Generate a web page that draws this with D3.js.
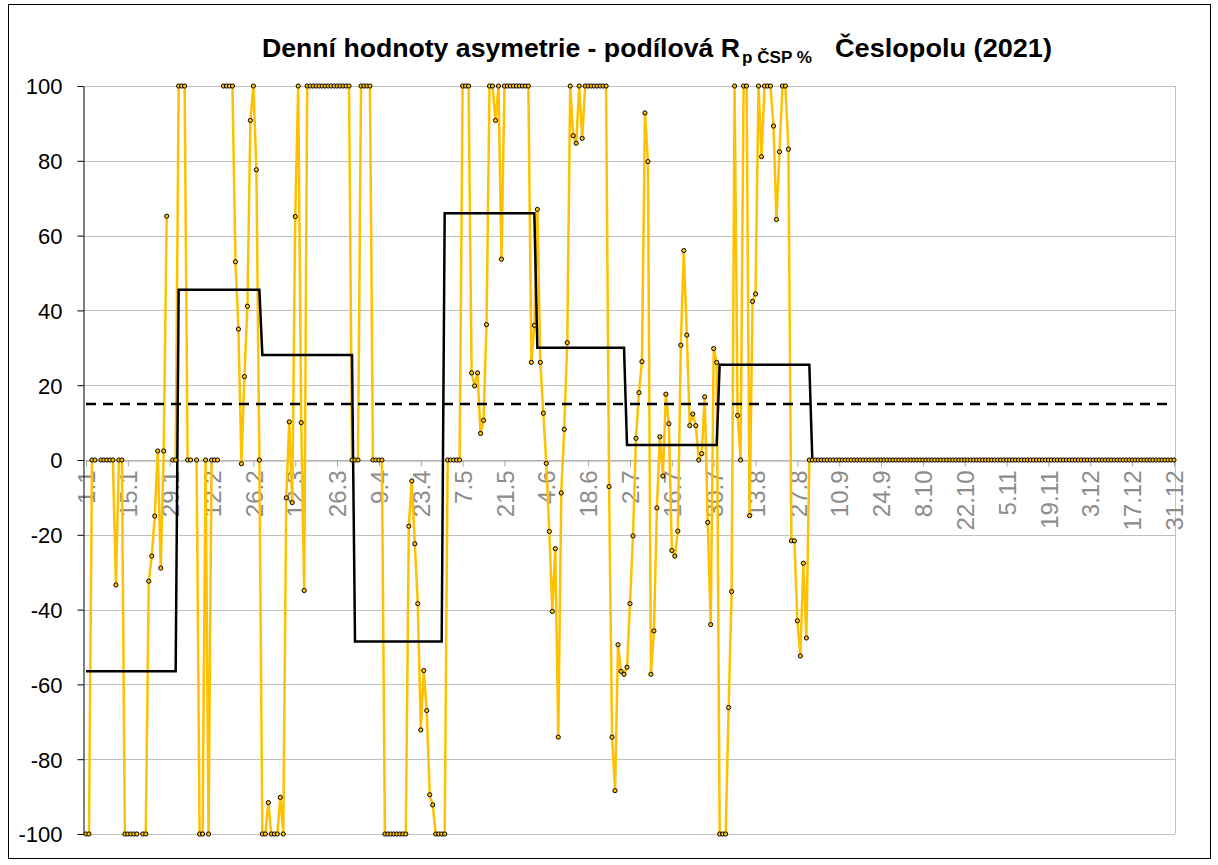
<!DOCTYPE html>
<html>
<head>
<meta charset="utf-8">
<script src="https://cdn.jsdelivr.net/npm/d3@7"></script>
<style>
  body { margin: 0; background: #fff; }
  text { font-family: "Liberation Sans", Arial, sans-serif; }
</style>
</head>
<body>
<script>
// daily values per month (null = no value that day)
var jan = [-100, -100, 0, 0, null, 0, 0, 0, 0, 0, -33.4, 0, 0, -100, -100, -100, -100, -100, null, -100,
           -100, -32.4, -25.7, -15, 2.4, -28.9, 2.4, 65.2, null, 0, 0];
var feb = [100, 100, 100, 0, 0, null, 0, -100, -100, 0, -100, 0, 0, 0, null, 100, 100, 100, 100, 53,
           35, -1, 22.3, 41.1, 90.8, 100, 77.6, 0];
var mar = [-100, -100, -91.6, -100, -100, -100, -90.2, -100, -10.1, 10.2, -11.4, 65.1, 100, 10, -34.9,
           100, 100, 100, 100, 100, 100, 100, 100, 100, 100, 100, 100, 100, 100, 100, 0];
var apr = [0, 0, 100, 100, 100, 100, 0, 0, 0, 0, -100, -100, -100, -100, -100, -100, -100, -100,
           -17.7, -5.6, -22.4, -38.4, -72.2, -56.3, -67, -89.5, -92.2, -100, -100, -100];
var may = [-100, 0, 0, 0, 0, 0, 100, 100, 100, 23.3, 19.8, 23.3, 7.1, 10.6, 36.2, 100, 100, 90.8, 100,
           53.7, 100, 100, 100, 100, 100, 100, 100, 100, 100, 26.1, 36];
var jun = [67, 26.1, 12.5, -0.9, -19.1, -40.5, -23.7, -74.1, -8.8, 8.2, 31.4, 100, 86.7, 84.7, 100, 86,
           100, 100, 100, 100, 100, 100, 100, 100, -7.1, -74.1, -88.4, -49.4, -56.5, -57.3];
var jul = [-55.4, -38.4, -20.3, 5.8, 18, 26.3, 92.8, 79.8, -57.3, -45.7, -12.8, 6.2, -4.3, 17.6, 9.7,
           -24.2, -25.7, -19, 30.7, 56, 33.4, 9.2, 12.3, 9.2, 0, 1.7, 16.9, -16.7, -44, 29.8, 26.1];
var aug = [-100, -100, -100, -66.2, -35.2, 100, 11.9, 0, 100, 100, -14.9, 42.4, 44.4, 100, 81.1, 100,
           100, 100, 89.3, 64.3, 82.4, 100, 100, 83.1, -21.6, -21.6, -43, -52.4, -27.6, -47.6, 0];
var sep = [0,0,0,0,0,0,0,0,0,0, 0,0,0,0,0,0,0,0,0,0, 0,0,0,0,0,0,0,0,0,0];
var oct = [0,0,0,0,0,0,0,0,0,0, 0,0,0,0,0,0,0,0,0,0, 0,0,0,0,0,0,0,0,0,0, 0];
var nov = [0,0,0,0,0,0,0,0,0,0, 0,0,0,0,0,0,0,0,0,0, 0,0,0,0,0,0,0,0,0,0];
var dec = [0,0,0,0,0,0,0,0,0,0, 0,0,0,0,0,0,0,0,0,0, 0,0,0,0,0,0,0,0,0,0, 0];

// monthly mean (black step line) and the limit (dashed line)
var monthAvg = [-56.5, 45.5, 28.1, -48.5, 66, 30, 4, 25.5, 0, 0, 0, 0];
var limit = 15;

var tickLabels = ["1.1", "15.1", "29.1", "12.2", "26.2", "12.3", "26.3", "9.4", "23.4", "7.5", "21.5",
                  "4.6", "18.6", "2.7", "16.7", "30.7", "13.8", "27.8", "10.9", "24.9", "8.10", "22.10",
                  "5.11", "19.11", "3.12", "17.12", "31.12"];
var yTicks = [-100, -80, -60, -40, -20, 0, 20, 40, 60, 80, 100];

var months = [jan, feb, mar, apr, may, jun, jul, aug, sep, oct, nov, dec];

// flatten into one daily table
var days = [];
months.forEach(function(m, mi) {
  m.forEach(function(v) {
    days.push({i: days.length, v: v, avg: monthAvg[mi]});
  });
});

var W = 1218, H = 865;
var margin = {top: 86, right: 43, bottom: 31, left: 83};

var x = d3.scaleLinear()
          .domain([0, days.length - 1])
          .range([86, 1174]);
var y = d3.scaleLinear()
          .domain([-100, 100])
          .range([834, 86]);

var svg = d3.select("body").append("svg")
    .attr("width", W)
    .attr("height", H);

svg.append("rect")
    .attr("width", W).attr("height", H)
    .attr("fill", "#fff");

// chart frame
svg.append("rect")
    .attr("x", 8.5).attr("y", 4.5)
    .attr("width", 1202).attr("height", 854)
    .attr("fill", "none")
    .attr("stroke", "#000")
    .attr("stroke-width", 1);

// horizontal gridlines
svg.append("g")
  .selectAll("line")
  .data(yTicks)
  .enter().append("line")
    .attr("x1", margin.left)
    .attr("x2", W - margin.right)
    .attr("y1", function(d) { return Math.round(y(d)) + 0.5; })
    .attr("y2", function(d) { return Math.round(y(d)) + 0.5; })
    .attr("stroke", "#c0c0c0")
    .attr("stroke-width", 1);

// right edge of plot area
svg.append("line")
    .attr("x1", W - margin.right + 0.5).attr("x2", W - margin.right + 0.5)
    .attr("y1", y(100)).attr("y2", y(-100))
    .attr("stroke", "#c0c0c0");

// x axis on the zero line
var tickIdx = tickLabels.map(function(d, k) { return k * 14; });
var xAxis = svg.append("g")
    .attr("transform", "translate(0," + (Math.round(y(0)) + 0.5) + ")")
    .call(d3.axisBottom(x).tickValues(tickIdx).tickSize(6).tickSizeOuter(0)
            .tickFormat(function(d, k) { return tickLabels[k]; }));
xAxis.select(".domain").attr("stroke", "#a6a6a6");
xAxis.selectAll(".tick line").attr("stroke", "#a6a6a6");
xAxis.selectAll(".tick text")
    .attr("fill", "#8c8c8c")
    .style("font-size", "24px")
    .attr("text-anchor", "end")
    .attr("transform", "rotate(-90)")
    .attr("x", -10)
    .attr("y", 0)
    .attr("dy", "0.36em");

// y axis (plain hyphen for negatives, like the original)
var yAxis = svg.append("g")
    .attr("transform", "translate(" + (margin.left + 0.5) + ",0)")
    .call(d3.axisLeft(y).tickValues(yTicks).tickSize(6).tickSizeOuter(0)
            .tickFormat(function(d) { return String(d); }));
yAxis.select(".domain").attr("stroke", "#000");
yAxis.selectAll(".tick line").attr("stroke", "#000");
yAxis.selectAll(".tick text")
    .attr("fill", "#000")
    .style("font-size", "22px")
    .attr("x", -21)
    .attr("dy", "0.36em");

// daily series
var line = d3.line()
    .defined(function(d) { return d.v !== null; })
    .x(function(d) { return x(d.i); })
    .y(function(d) { return y(d.v); });

svg.append("path")
    .datum(days)
    .attr("fill", "none")
    .attr("stroke", "#ffc000")
    .attr("stroke-width", 2.5)
    .attr("stroke-linejoin", "round")
    .attr("d", line);

// monthly average step line
var avgLine = d3.line()
    .x(function(d) { return x(d.i); })
    .y(function(d) { return y(d.avg); });

svg.append("path")
    .datum(days)
    .attr("fill", "none")
    .attr("stroke", "#000")
    .attr("stroke-width", 2.5)
    .attr("d", avgLine);

// limit
svg.append("line")
    .attr("x1", x(0)).attr("x2", x(days.length - 1))
    .attr("y1", y(limit)).attr("y2", y(limit))
    .attr("stroke", "#000")
    .attr("stroke-width", 2.5)
    .attr("stroke-dasharray", "10,7");

// markers
svg.append("g")
  .selectAll("circle")
  .data(days.filter(function(d) { return d.v !== null; }))
  .enter().append("circle")
    .attr("cx", function(d) { return x(d.i); })
    .attr("cy", function(d) { return y(d.v); })
    .attr("r", 2.1)
    .attr("fill", "#ffc000")
    .attr("stroke", "#000")
    .attr("stroke-width", 1);

// title
var title = svg.append("text")
    .attr("y", 57)
    .style("font-weight", "bold")
    .attr("fill", "#000");
title.append("tspan")
    .attr("x", 262)
    .style("font-size", "25px")
    .attr("textLength", 478)
    .attr("lengthAdjust", "spacingAndGlyphs")
    .text("Denní hodnoty asymetrie - podílová R");
title.append("tspan")
    .attr("x", 742)
    .attr("dy", 6)
    .style("font-size", "16px")
    .attr("textLength", 70)
    .attr("lengthAdjust", "spacingAndGlyphs")
    .text("p ČSP %");
title.append("tspan")
    .attr("x", 835)
    .attr("dy", -6)
    .style("font-size", "25px")
    .attr("textLength", 217)
    .attr("lengthAdjust", "spacingAndGlyphs")
    .text("Česlopolu (2021)");
</script>
</body>
</html>
